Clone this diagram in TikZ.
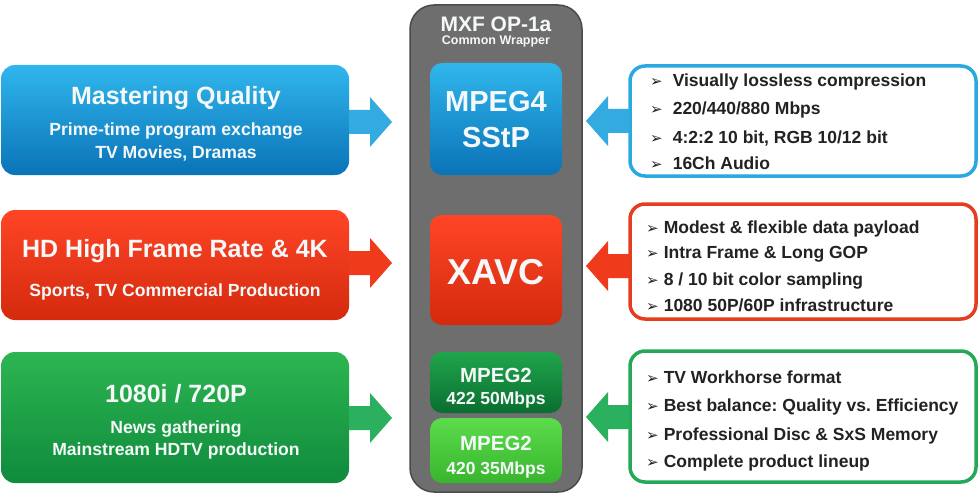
\documentclass[tikz,border=0pt]{standalone}
\usepackage{fontspec}
\setmainfont{Liberation Sans}
\newfontfamily\dvs{DejaVu Sans}
\definecolor{bTop}{HTML}{30B6EC}
\definecolor{bBot}{HTML}{0A73B8}
\definecolor{bArr}{HTML}{33ABE0}
\definecolor{bBrd}{HTML}{2AA8E0}
\definecolor{rTop}{HTML}{FF4526}
\definecolor{rBot}{HTML}{D42A0E}
\definecolor{rArr}{HTML}{F03A1C}
\definecolor{rBrd}{HTML}{E63C20}
\definecolor{gTop}{HTML}{2DB552}
\definecolor{gBot}{HTML}{0F8B3C}
\definecolor{gArr}{HTML}{2BB060}
\definecolor{gBrd}{HTML}{25A858}
\definecolor{dgTop}{HTML}{20A54C}
\definecolor{dgBot}{HTML}{0A6E30}
\definecolor{lgTop}{HTML}{5CDC4C}
\definecolor{lgBot}{HTML}{38B52E}
\definecolor{cGray}{HTML}{6E6E6E}
\definecolor{cGrayB}{HTML}{4B4B4B}
\definecolor{txtW}{HTML}{F4F8F8}
\definecolor{txtK}{HTML}{222222}
\frenchspacing
\newcommand\bul{{\dvs\fontsize{15}{15}\selectfont ➢}}
\newcommand\barrow[4]{%
  \fill[#3] ([yshift=12pt]#1) -- ([xshift=#4,yshift=12pt]#2) -- ([xshift=#4,yshift=25pt]#2) -- (#2)
    -- ([xshift=#4,yshift=-25pt]#2) -- ([xshift=#4,yshift=-12pt]#2) -- ([yshift=-12pt]#1) -- cycle;}
\begin{document}
\begin{tikzpicture}[x=1pt,y=-1pt,
  lbox/.style 2 args={rectangle, rounded corners=14pt, minimum width=348pt, inner sep=0pt, top color=#1, bottom color=#2, draw=none},
  cbox/.style 2 args={rectangle, rounded corners=12pt, minimum width=132pt, inner sep=0pt, top color=#1, bottom color=#2, draw=none},
  rbox/.style={rectangle, rounded corners=15pt, minimum width=346pt, inner sep=0pt, draw=#1, line width=3.5pt, fill=white},
  wt/.style={text=txtW, inner sep=0pt, anchor=base},
  big/.style={font=\fontsize{25}{30}\selectfont\bfseries},
  sub/.style={font=\fontsize{17.6}{20}\selectfont\bfseries},
  rt/.style={text=txtK, inner sep=0pt, anchor=base west, font=\fontsize{17.5}{20}\selectfont\bfseries}]
\useasboundingbox (0,0) rectangle (980,500);
\fill[white] (0,0) rectangle (980,500);

% central container
\node[rectangle, rounded corners=24pt, minimum width=172pt, minimum height=487pt, fill=cGray, draw=cGrayB, line width=1.5pt] (C) at (496,248.5) {};
\node[wt, font=\fontsize{21}{24}\selectfont\bfseries] (Ct1) at (496,32) {MXF OP-1a};
\node[wt, font=\fontsize{12.5}{14}\selectfont\bfseries] (Ct2) at (496,44.5) {Common Wrapper};

\node[cbox={bTop}{bBot}, minimum height=112pt] (CB) at (496,119) {};
\node[wt, font=\fontsize{29}{32}\selectfont\bfseries] (CBt1) at (496,112) {MPEG4};
\node[wt, font=\fontsize{29}{32}\selectfont\bfseries] (CBt2) at (496,147) {SStP};

\node[cbox={rTop}{rBot}, minimum height=110pt] (CR) at (496,270) {};
\node[wt, font=\fontsize{36}{40}\selectfont\bfseries] (CRt) at (496,284) {XAVC};

\node[cbox={dgTop}{dgBot}, minimum height=61pt] (CG1) at (496,382.5) {};
\node[wt, font=\fontsize{20.5}{24}\selectfont\bfseries] (CG1a) at (496,382) {MPEG2};
\node[wt, font=\fontsize{17.5}{20}\selectfont\bfseries] (CG1b) at (496,404) {422 50Mbps};

\node[cbox={lgTop}{lgBot}, minimum height=65pt] (CG2) at (496,450.5) {};
\node[wt, font=\fontsize{20.5}{24}\selectfont\bfseries] (CG2a) at (496,450) {MPEG2};
\node[wt, font=\fontsize{17.5}{20}\selectfont\bfseries] (CG2b) at (496,474) {420 35Mbps};

% left boxes
\node[lbox={bTop}{bBot}, minimum height=110pt] (LB) at (175,120) {};
\node[wt, big] (LBt1) at (176,105) {Mastering Quality};
\node[wt, sub] (LBt2) at (176,136) {Prime-time program exchange};
\node[wt, sub] (LBt3) at (176,158) {TV Movies, Dramas};

\node[lbox={rTop}{rBot}, minimum height=110pt] (LR) at (175,265) {};
\node[wt, big] (LRt1) at (175,257) {HD High Frame Rate \& 4K};
\node[wt, sub] (LRt2) at (175,296) {Sports, TV Commercial Production};

\node[lbox={gTop}{gBot}, minimum height=131pt] (LG) at (175,417.5) {};
\node[wt, big] (LGt1) at (176,402) {1080i / 720P};
\node[wt, sub] (LGt2) at (176,433) {News gathering};
\node[wt, sub] (LGt3) at (176,455) {Mainstream HDTV production};

% left arrows
\coordinate (tB) at (392,122);
\coordinate (tR) at (392,263);
\coordinate (tG) at (392,418);
\coordinate (sB) at (LB.east |- tB);
\coordinate (sR) at (LR.east |- tR);
\coordinate (sG) at (LG.east |- tG);
\barrow{sB}{tB}{bArr}{-22pt}
\barrow{sR}{tR}{rArr}{-22pt}
\barrow{sG}{tG}{gArr}{-22pt}

% right arrows
\coordinate (uB) at (586,121);
\coordinate (uR) at (586,266);
\coordinate (uG) at (586,417);
\node[rbox=bBrd, minimum height=110pt] (RB) at (803,121) {};
\node[rbox=rBrd, minimum height=115pt] (RR) at (803,261.5) {};
\node[rbox=gBrd, minimum height=131pt] (RG) at (803,416.5) {};
\coordinate (vB) at ([xshift=1pt]RB.west |- uB);
\coordinate (vR) at ([xshift=1pt]RR.west |- uR);
\coordinate (vG) at ([xshift=1pt]RG.west |- uG);
\barrow{vB}{uB}{bArr}{22pt}
\barrow{vR}{uR}{rArr}{22pt}
\barrow{vG}{uG}{gArr}{22pt}

% right texts
\node[rt] (b1) at (650,87) {\bul\hspace{10pt}Visually lossless compression};
\node[rt] (b2) at (650,115) {\bul\hspace{10pt}220/440/880 Mbps};
\node[rt] (b3) at (650,143) {\bul\hspace{10pt}4:2:2 10 bit, RGB 10/12 bit};
\node[rt] (b4) at (650,170) {\bul\hspace{10pt}16Ch Audio};

\node[rt] (r1) at (646,233) {\bul\hspace{5pt}Modest \& flexible data payload};
\node[rt] (r2) at (646,258) {\bul\hspace{5pt}Intra Frame \& Long GOP};
\node[rt] (r3) at (646,285) {\bul\hspace{5pt}8 / 10 bit color sampling};
\node[rt] (r4) at (646,311) {\bul\hspace{5pt}1080 50P/60P infrastructure};

\node[rt] (g1) at (646,383) {\bul\hspace{5pt}TV Workhorse format};
\node[rt] (g2) at (646,411) {\bul\hspace{5pt}Best balance: Quality vs. Efficiency};
\node[rt] (g3) at (646,440) {\bul\hspace{5pt}Professional Disc \& SxS Memory};
\node[rt] (g4) at (646,467) {\bul\hspace{5pt}Complete product lineup};
\end{tikzpicture}
\end{document}
